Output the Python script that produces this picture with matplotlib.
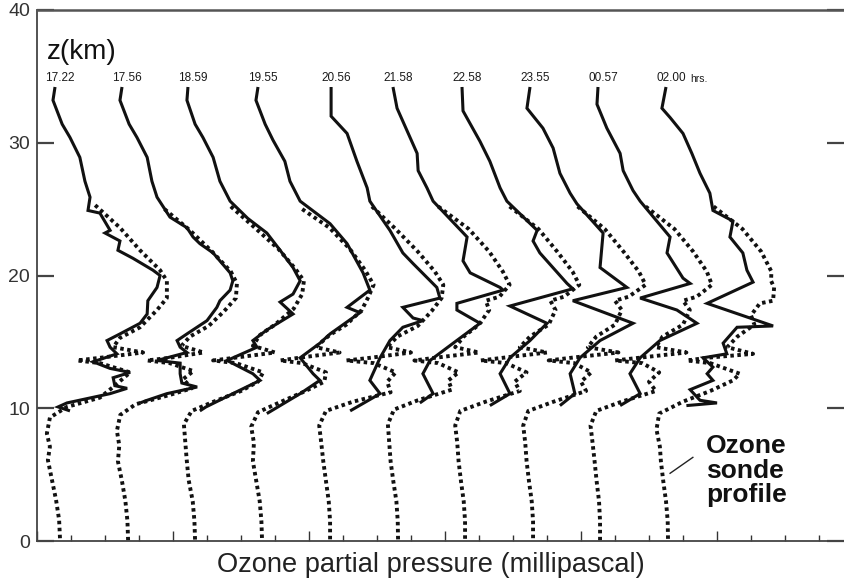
import matplotlib
matplotlib.use('Agg')
import matplotlib.pyplot as plt
from matplotlib.ticker import MultipleLocator

plt.rcParams['font.family'] = ['Liberation Sans', 'DejaVu Sans']

# launch times of the ten profiles
TIMES = ['17.22', '17.56', '18.59', '19.55', '20.56', '21.58', '22.58', '23.55', '00.57', '02.00']
PROFILE_STEP = 2.0   # horizontal shift between successive profiles (tick units)
LABEL_Z = 34.45      # altitude of the time labels

# lidar profiles (solid): (altitude km, partial pressure)
LIDAR_1722 = [(34.2,0.53),(33.2,0.47),(31.4,0.74),(30.4,0.97),(28.9,1.26),(27.1,1.41),(25.9,1.56),(24.9,1.50),
              (24.7,1.85),(23.4,2.15),(23.2,2.00),(22.6,2.44),(21.9,2.38),(21.3,2.82),(20.4,3.41),(20.0,3.62),
              (19.1,3.53),(18.1,3.26),(17.1,3.24),(16.4,3.03),(15.6,2.44),(15.1,2.06),(14.6,2.15),(14.1,2.35),
              (13.5,1.65),(13.0,2.15),(12.7,2.74),(12.3,2.24),(11.7,2.29),(11.5,2.65),(11.1,2.15),(10.4,0.88),
              (10.1,0.62),(9.8,0.97)]
LIDAR_1756 = [(34.2,0.50),(33.2,0.44),(31.4,0.71),(30.4,0.94),(28.9,1.24),(27.1,1.38),(25.9,1.53),(24.4,1.91),
              (23.6,2.41),(22.9,2.59),(22.4,2.79),(21.7,3.18),(20.2,3.68),(19.6,3.76),(18.9,3.68),(18.1,3.38),
              (17.6,3.29),(16.6,3.00),(15.6,2.41),(15.1,2.12),(14.6,2.21),(14.2,2.41),(13.6,1.53),(13.4,2.21),
              (12.6,2.21),(11.9,2.26),(11.6,2.71),(11.1,1.82),(10.6,1.24),(10.4,1.03)]
LIDAR_1859 = [(34.2,0.44),(33.2,0.41),(31.4,0.65),(30.4,0.88),(28.9,1.18),(27.1,1.38),(25.6,1.68),(24.3,2.20),
              (23.2,2.76),(21.9,3.15),(20.6,3.53),(19.6,3.74),(18.6,3.53),(18.0,3.15),(17.1,3.53),(15.9,2.76),
              (15.1,2.35),(14.6,2.47),(13.6,1.59),(12.6,2.35),(12.1,2.56),(11.1,1.76),(10.1,0.97),(9.8,0.79)]
LIDAR_1955 = [(34.2,0.50),(33.2,0.44),(31.4,0.71),(30.2,0.94),(28.6,1.29),(27.1,1.44),(25.6,1.74),(23.9,2.62),
              (22.4,3.12),(20.2,3.59),(18.9,3.79),(17.6,3.12),(17.2,3.50),(15.6,2.62),(14.9,2.32),(13.8,1.74),
              (12.6,2.12),(12.1,2.32),(11.1,1.74),(9.6,0.76)]
LIDAR_2056 = [(34.2,0.65),(32.0,0.65),(30.7,1.12),(28.6,1.41),(26.6,1.71),(25.6,1.79),(23.4,2.38),(21.7,2.76),
              (20.9,3.06),(19.1,3.76),(18.3,3.85),(17.6,2.76),(16.8,3.06),(16.6,3.35),(16.1,2.76),(15.1,2.38),
              (13.8,2.09),(12.1,1.79),(11.1,2.09),(9.8,1.21)]
LIDAR_2158 = [(34.2,0.47),(32.6,0.59),(29.2,1.18),(27.9,1.21),(26.6,1.47),(25.6,1.65),(22.9,2.65),(21.1,2.53),
              (20.2,2.74),(19.1,3.62),(18.9,3.71),(17.9,2.35),(17.4,2.35),(16.4,3.03),(14.9,2.24),(13.6,1.56),
              (12.6,1.35),(11.1,1.65),(10.4,1.26)]
LIDAR_2258 = [(34.2,0.50),(32.4,0.53),(30.1,1.03),(28.6,1.32),(26.6,1.62),(25.6,1.82),(23.4,2.71),(22.6,2.59),
              (21.7,2.79),(19.4,3.59),(19.0,3.76),(17.7,1.91),(16.4,3.00),(15.1,2.50),(13.8,1.91),(12.6,1.62),
              (11.1,1.91),(10.2,1.32)]
LIDAR_2355 = [(34.2,0.50),(32.6,0.41),(31.1,0.88),(29.6,1.18),(27.7,1.38),(26.2,1.68),(25.4,1.88),(23.2,2.65),
              (20.6,2.56),(19.1,3.35),(18.1,1.76),(16.4,3.53),(15.1,2.56),(13.8,1.97),(12.6,1.68),(11.1,1.82),
              (10.2,1.38)]
LIDAR_0057 = [(34.2,0.50),(32.9,0.47),(31.1,0.76),(29.2,1.15),(27.9,1.24),(26.4,1.53),(25.6,1.74),(22.9,2.62),
              (21.7,2.53),(19.8,3.00),(19.4,3.21),(18.3,1.74),(17.4,2.82),(16.4,3.41),(15.1,2.32),(13.8,1.74),
              (12.6,1.44),(11.1,1.74),(10.2,1.15)]
LIDAR_0200 = [(34.2,0.50),(32.6,0.38),(31.9,0.62),(30.7,1.00),(29.2,1.26),(27.7,1.50),(26.2,1.79),(24.9,1.88),
              (24.1,2.47),(22.9,2.38),(21.7,2.76),(20.4,2.88),(19.5,3.06),(17.9,1.71),(16.2,3.65),(16.1,2.59),
              (14.9,2.18),(14.1,2.29),(13.8,1.59),(13.1,1.88),(12.6,1.71),(12.1,1.88),(11.4,1.21),(10.6,1.50),
              (10.4,2.00),(10.2,1.10)]

# ozone sonde profiles (dotted): (altitude km, partial pressure)
SONDE_1722 = [(25.3,1.71),(23.6,2.44),(21.9,3.03),(20.4,3.62),(19.6,3.82),(18.3,3.82),(17.4,3.53),(16.1,3.03),
              (15.3,2.44),(14.6,2.24),(14.2,3.12),(13.8,1.85),(13.6,1.18),(13.4,1.85),(12.7,2.74),(11.6,2.24),
              (10.8,1.85),(10.1,0.88),(9.3,0.38),(8.1,0.29),(7.1,0.38),(6.1,0.32),(4.6,0.44),(3.1,0.56),(1.6,0.65),(0.0,0.68)]
SONDE_1756 = [(25.0,1.75),(23.4,2.50),(21.8,3.15),(20.3,3.70),(19.4,3.88),(18.3,3.85),(17.3,3.50),(16.2,3.05),
              (15.4,2.50),(14.7,2.25),(14.2,2.90),(13.8,1.90),(13.6,1.24),(13.4,1.90),(12.8,2.60),(12.2,2.30),
              (11.5,2.55),(11.0,1.90),(10.3,0.90),(9.5,0.45),(8.3,0.35),(7.2,0.42),(6.0,0.38),(4.5,0.50),(3.0,0.60),(1.5,0.66),(0.0,0.68)]
SONDE_1859 = [(25.2,1.70),(23.5,2.45),(22.0,3.10),(20.5,3.60),(19.6,3.85),(18.6,3.80),(17.5,3.55),(16.3,3.00),
              (15.5,2.55),(14.7,2.35),(14.2,3.00),(13.8,1.80),(13.6,1.18),(13.4,1.85),(12.7,2.65),(12.0,2.50),
              (11.3,2.00),(10.5,1.20),(9.8,0.55),(8.8,0.32),(7.5,0.36),(6.2,0.40),(4.6,0.46),(3.0,0.58),(1.5,0.63),(0.0,0.65)]
SONDE_1955 = [(25.0,1.80),(23.6,2.60),(22.0,3.20),(20.4,3.65),(19.3,3.90),(18.4,3.75),(17.4,3.55),(16.3,3.10),
              (15.5,2.60),(14.6,2.20),(14.2,2.90),(13.8,1.70),(13.6,1.15),(13.4,1.80),(12.7,2.50),(12.0,2.45),
              (11.3,1.90),(10.4,1.10),(9.7,0.50),(8.6,0.30),(7.4,0.38),(6.0,0.35),(4.5,0.45),(3.0,0.55),(1.5,0.60),(0.0,0.62)]
SONDE_2056 = [(25.2,1.85),(23.5,2.55),(21.8,3.20),(20.3,3.70),(19.3,3.95),(18.3,3.90),(17.3,3.60),(16.2,3.20),
              (15.4,2.60),(14.6,2.30),(14.2,3.00),(13.8,1.80),(13.6,1.10),(13.4,1.90),(12.7,2.55),(12.0,2.30),
              (11.2,2.40),(10.5,1.30),(9.8,0.50),(8.7,0.30),(7.4,0.36),(6.0,0.42),(4.5,0.50),(3.0,0.58),(1.5,0.62),(0.0,0.62)]
SONDE_2158 = [(25.2,1.80),(23.5,2.70),(21.8,3.30),(20.3,3.70),(19.3,3.90),(18.4,3.60),(18.1,3.20),(17.4,3.30),
              (16.3,3.00),(15.4,2.55),(14.6,2.30),(14.2,3.00),(13.8,1.70),(13.6,1.10),(13.4,1.80),(12.7,2.40),
              (12.1,2.10),(11.4,2.20),(10.6,1.20),(9.9,0.50),(8.8,0.32),(7.4,0.36),(6.0,0.40),(4.5,0.48),(3.0,0.57),(1.5,0.61),(0.0,0.62)]
SONDE_2258 = [(25.2,1.90),(23.5,2.75),(21.8,3.30),(20.3,3.75),(19.3,3.95),(18.4,3.50),(18.1,3.10),(17.4,3.25),
              (16.3,3.05),(15.4,2.50),(14.6,2.20),(14.2,3.00),(13.8,1.70),(13.6,1.05),(13.4,1.80),(12.7,2.40),
              (12.0,2.05),(11.3,2.20),(10.5,1.20),(9.8,0.45),(8.7,0.30),(7.4,0.36),(6.0,0.40),(4.5,0.47),(3.0,0.55),(1.5,0.59),(0.0,0.59)]
SONDE_2355 = [(25.2,1.90),(23.5,2.70),(21.8,3.25),(20.3,3.70),(19.3,3.90),(18.4,3.40),(18.1,3.00),(17.4,3.20),
              (16.3,3.00),(15.4,2.45),(14.6,2.20),(14.2,3.10),(13.8,1.70),(13.6,1.05),(13.4,1.80),(12.7,2.30),
              (12.0,2.00),(11.3,2.15),(10.5,1.20),(9.8,0.45),(8.7,0.30),(7.4,0.36),(6.0,0.40),(4.5,0.47),(3.0,0.55),(1.5,0.59),(0.0,0.59)]
SONDE_0057 = [(25.2,1.90),(23.5,2.75),(21.8,3.30),(20.3,3.70),(19.3,3.85),(18.4,3.40),(18.1,3.00),(17.4,3.20),
              (16.3,3.00),(15.4,2.40),(14.6,2.20),(14.2,3.10),(13.8,1.70),(13.6,1.00),(13.4,1.80),(12.7,2.30),
              (12.0,2.00),(11.3,2.20),(10.5,1.20),(9.8,0.45),(8.7,0.28),(7.4,0.34),(6.0,0.40),(4.5,0.46),(3.0,0.53),(1.5,0.56),(0.0,0.56)]
SONDE_0200 = [(25.2,1.90),(23.5,2.75),(21.8,3.30),(20.3,3.60),(19.6,3.59),(19.1,3.68),(18.1,3.65),(17.9,3.26),
              (17.0,3.00),(16.3,3.10),(15.4,2.60),(14.6,2.30),(14.1,3.06),(13.8,1.70),(13.6,1.12),(13.4,1.80),
              (12.6,2.67),(12.1,2.47),(11.3,1.80),(10.5,1.00),(9.6,0.30),(8.4,0.22),(7.1,0.32),(6.0,0.35),(4.5,0.42),(3.0,0.50),(1.5,0.55),(0.0,0.56)]

LIDAR = [LIDAR_1722, LIDAR_1756, LIDAR_1859, LIDAR_1955, LIDAR_2056,
         LIDAR_2158, LIDAR_2258, LIDAR_2355, LIDAR_0057, LIDAR_0200]
SONDE = [SONDE_1722, SONDE_1756, SONDE_1859, SONDE_1955, SONDE_2056,
         SONDE_2158, SONDE_2258, SONDE_2355, SONDE_0057, SONDE_0200]

Y_TICKS = [0, 10, 20, 30, 40]

W, H = 844, 582
fig = plt.figure(figsize=(W / 100, H / 100), dpi=100)
ax = fig.add_axes([37 / W, 41 / H, 807 / W, 531 / H])
ax.set_xlim(0, 807 / 34)
ax.set_ylim(0, 40)

for i, (lid, son) in enumerate(zip(LIDAR, SONDE)):
    off = i * PROFILE_STEP
    sz = [z for z, p in son]
    sp = [off + p for z, p in son]
    ax.plot(sp, sz, color='#111111', lw=2.8, linestyle=(0, (0.9, 0.9)),
            dash_capstyle='butt', solid_joinstyle='round', clip_on=False)
    lz = [z for z, p in lid]
    lp = [off + p for z, p in lid]
    ax.plot(lp, lz, color='#111111', lw=2.2, solid_joinstyle='miter', solid_capstyle='butt')
    ax.text(off + lid[0][1] + 0.15, LABEL_Z, TIMES[i], ha='center', va='bottom',
            fontsize=8.5, color='#1a1a1a')
    if i == len(TIMES) - 1:
        ax.text(off + lid[0][1] + 0.72, LABEL_Z, 'hrs.', ha='left', va='bottom',
                fontsize=7.5, color='#1a1a1a')

ax.text(0.3, 36.8, 'z(km)', ha='left', va='center', fontsize=20, color='#111111')

# annotation for the sonde profile
ax.plot([18.62, 19.29], [5.1, 6.3], color='#222222', lw=1.0)
ax.text(19.68, 5.3, 'Ozone\nsonde\nprofile', ha='left', va='center', fontsize=19,
        fontweight='bold', color='#111111', linespacing=1.02)

fig.text(431 / W, 1 - 565 / H, 'Ozone partial pressure (millipascal)', ha='center', va='center',
         fontsize=19.6, color='#222222')

ax.set_yticks(Y_TICKS)
ax.set_yticklabels([str(v) for v in Y_TICKS])
ax.tick_params(axis='y', direction='in', length=12, width=1.6, color='#444444',
               left=True, right=True, labelsize=14, labelcolor='#333333', pad=5)
ax.xaxis.set_major_locator(MultipleLocator(4))
ax.xaxis.set_minor_locator(MultipleLocator(1))
ax.tick_params(axis='x', which='major', direction='in', length=7, width=1.0, color='#333333', labelbottom=False)
ax.tick_params(axis='x', which='minor', direction='in', length=4, width=1.0, color='#333333')

for s in ['left', 'bottom']:
    ax.spines[s].set_color('#444444')
    ax.spines[s].set_linewidth(1.3)
ax.spines['top'].set_color('#555555')
ax.spines['top'].set_linewidth(1.8)
ax.spines['right'].set_visible(False)

fig.savefig('out.png', dpi=100)
